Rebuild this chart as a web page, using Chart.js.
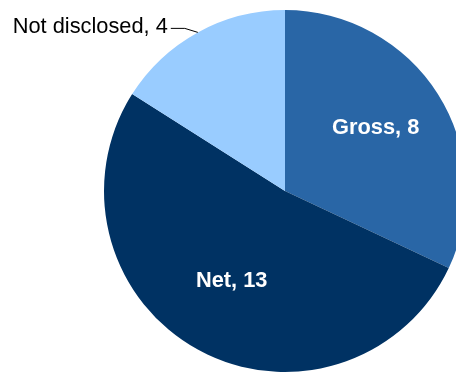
<!DOCTYPE html>
<html>
<head>
<meta charset="utf-8">
<script src="https://cdn.jsdelivr.net/npm/chart.js@4/dist/chart.umd.min.js"></script>
<style>
  html, body { margin: 0; padding: 0; background: #fff; overflow: hidden; }
  #wrap { position: absolute; left: 0; top: 0; width: 570px; height: 382px; }
</style>
</head>
<body>
<div id="wrap"><canvas id="myChart" width="570" height="382"></canvas></div>
<script>
const categories = ['Gross', 'Net', 'Not disclosed']
const counts = [8, 13, 4]
const sliceColors = ['#2966a6', '#003263', '#99ccff']
const labelColors = ['#ffffff', '#ffffff', '#000000']
// which slices get their label outside, with a leader line
const outside = [false, false, true]

const FONT = '"Liberation Sans", Arial, sans-serif'

// draws "Name, value" on every slice
const sliceLabels = {
  id: 'sliceLabels',
  afterDatasetsDraw(chart) {
    const ctx = chart.ctx
    const meta = chart.getDatasetMeta(0)
    ctx.save()
    meta.data.forEach((arc, i) => {
      const p = arc.getProps(['x', 'y', 'startAngle', 'endAngle', 'outerRadius'], true)
      const mid = (p.startAngle + p.endAngle) / 2
      const text = categories[i] + ', ' + counts[i]
      ctx.fillStyle = labelColors[i]
      ctx.textBaseline = 'middle'
      if (outside[i]) {
        const ex = p.x + Math.cos(mid) * p.outerRadius
        const ey = p.y + Math.sin(mid) * p.outerRadius
        const kx = ex - 13, ky = ey - 4
        ctx.strokeStyle = '#000'
        ctx.lineWidth = 1
        ctx.beginPath()
        ctx.moveTo(ex, ey)
        ctx.lineTo(kx, ky)
        ctx.lineTo(kx - 14, ky)
        ctx.stroke()
        ctx.font = '21.8px ' + FONT
        ctx.textAlign = 'right'
        ctx.fillText(text, kx - 17, ky - 1)
      } else {
        const r = p.outerRadius * 0.6
        ctx.font = 'bold 21.8px ' + FONT
        ctx.textAlign = 'center'
        ctx.fillText(text, p.x + Math.cos(mid) * r - 1, p.y + Math.sin(mid) * r - 5)
      }
    })
    ctx.restore()
  }
}

const data = {
  labels: categories,
  datasets: [{
    data: counts,
    backgroundColor: sliceColors,
    borderWidth: 0
  }]
}

const config = {
  type: 'pie',
  data: data,
  options: {
    responsive: false,
    animation: false,
    layout: { padding: { top: 10, bottom: 10, left: 0, right: 0 } },
    plugins: {
      legend: { display: false },
      tooltip: { enabled: false }
    }
  },
  plugins: [sliceLabels]
}

new Chart(document.getElementById('myChart'), config)
</script>
</body>
</html>
